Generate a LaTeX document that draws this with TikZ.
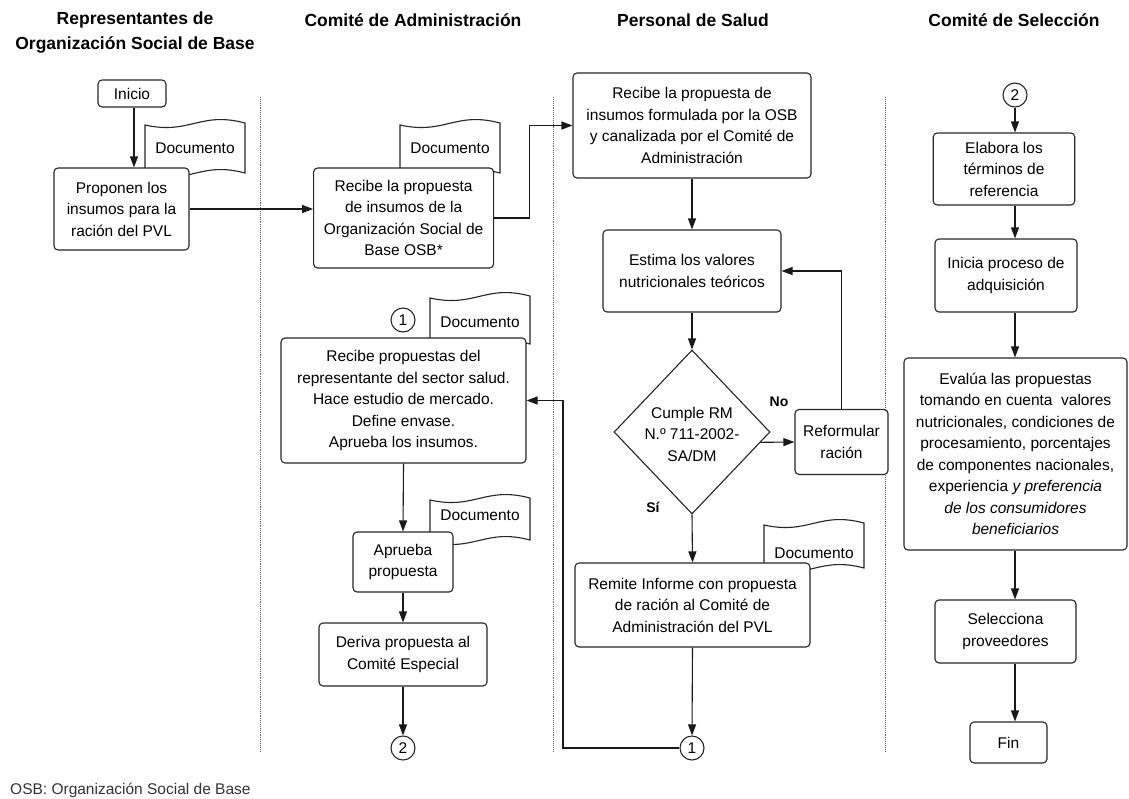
\documentclass[tikz,border=0pt]{standalone}
\usepackage{fontspec}
\setmainfont{Liberation Sans}
\usetikzlibrary{arrows.meta,shapes.geometric,calc}
\newcommand{\myBody}{\fontsize{15.5}{21.5}\selectfont}
\newcommand{\myTitle}{\fontsize{17.5}{25}\selectfont\bfseries}
\tikzset{
  box/.style={draw=black!85, line width=1.1pt, rounded corners=4pt, fill=white,
    inner sep=0pt, align=center, font=\myBody, text=black},
  conn/.style={circle, draw=black!85, line width=1.1pt, fill=white, minimum size=24pt,
    inner sep=0pt, font=\myBody},
  arr/.style={line width=1.1pt, draw=black!90, -{Triangle[length=11pt,width=8pt]}},
  plain/.style={line width=1.1pt, draw=black!90},
  sep/.style={line width=0.9pt, draw=black!60, densely dotted},
  docsty/.style={draw=black!85, line width=1.1pt, fill=white},
  doctext/.style={font=\myBody, inner sep=0pt},
  lanetitle/.style={font=\myTitle, align=center, inner sep=0pt},
  lbl/.style={font=\fontsize{14}{16}\selectfont\bfseries, inner sep=0pt},
}
\newcommand{\docflag}[5]{%
  \begin{scope}[shift={(#2,#3)}]
    \draw[docsty] (0,0) .. controls (45,10) and (55,-14) .. (100,-2)
      -- (100,#4-2) .. controls (55,#4-14) and (45,#4+10) .. (0,#4) -- cycle;
    \node[doctext] (#1) at (50,#5) {Documento};
  \end{scope}}
\begin{document}
\begin{tikzpicture}[x=1pt,y=-1pt]
\useasboundingbox (0,0) rectangle (1129,798);

% lane titles
\node[lanetitle] (t1) at (135,32.5) {Representantes de\\Organización Social de Base};
\node[lanetitle] (t2) at (413,20) {Comité de Administración};
\node[lanetitle] (t3) at (693,20) {Personal de Salud};
\node[lanetitle] (t4) at (1014,20) {Comité de Selección};

% separators
\draw[sep] (260,97) -- (260,752);
\draw[sep] (553,97) -- (553,752);
\draw[sep] (885,97) -- (885,752);

% documents (drawn behind boxes)
\docflag{d1}{145}{125}{50}{23}
\docflag{d2}{400}{125}{50}{23}
\docflag{d3}{430}{298}{48}{24}
\docflag{d4}{430}{500}{42}{15}
\docflag{d5}{764}{525}{45}{28}

% lane 1
\node[box, minimum width=68pt, minimum height=27pt] (inicio) at (132,93.5) {Inicio};
\node[box, minimum width=135pt, minimum height=82pt] (proponen) at (121.5,209)
  {Proponen los\\insumos para la\\ración del PVL};

% lane 2
\node[box, minimum width=180pt, minimum height=100pt] (recibeCA) at (403.6,218)
  {Recibe la propuesta\\de insumos de la\\Organización Social de\\Base OSB*};
\node[conn] (c1t) at (403,320) {1};
\node[box, minimum width=245pt, minimum height=125pt] (recprop) at (403.5,400.5)
  {Recibe propuestas del\\representante del sector salud.\\Hace estudio de mercado.\\Define envase.\\Aprueba los insumos.};
\node[box, minimum width=100pt, minimum height=60pt] (aprueba) at (403,562)
  {Aprueba\\propuesta};
\node[box, minimum width=168pt, minimum height=63pt] (deriva) at (403,654.5)
  {Deriva propuesta al\\Comité Especial};
\node[conn] (c2b) at (403,748) {2};

% lane 3
\node[box, minimum width=238pt, minimum height=105pt] (recibePS) at (692,125.5)
  {Recibe la propuesta de\\insumos formulada por la OSB\\y canalizada por el Comité de\\Administración};
\node[box, minimum width=178pt, minimum height=82pt] (estima) at (692,271)
  {Estima los valores\\nutricionales teóricos};
\node[diamond, draw=black!85, line width=1.1pt, fill=white, inner sep=0pt,
  minimum width=156pt, minimum height=164pt] (dia) at (692,432) {};
\node[font=\myBody, align=center, inner sep=0pt] (diatxt) at (692,434)
  {Cumple RM\\N.º 711-2002-\\SA/DM};
\node[box, minimum width=93pt, minimum height=65pt] (refo) at (841.5,442)
  {Reformular\\ración};
\node[box, minimum width=235pt, minimum height=84pt] (remite) at (692.5,605)
  {Remite Informe con propuesta\\de ración al Comité de\\Administración del PVL};
\node[conn] (c1b) at (692,748) {1};
\node[lbl] (no) at (779,402) {No};
\node[lbl] (si) at (653,507) {Sí};

% lane 4
\node[conn] (c2t) at (1015,95) {2};
\node[box, minimum width=141.5pt, minimum height=72pt] (elabora) at (1004,169)
  {Elabora los\\términos de\\referencia};
\node[box, minimum width=142pt, minimum height=73pt] (inicia) at (1006,275.5)
  {Inicia proceso de\\adquisición};
\node[box, minimum width=223pt, minimum height=192pt] (evalua) at (1015.5,454)
  {Evalúa las propuestas\\tomando en cuenta\ \ valores\\nutricionales, condiciones de\\procesamiento, porcentajes\\de componentes nacionales,\\experiencia \textit{y preferencia}\\\textit{de los consumidores}\\\textit{beneficiarios}};
\node[box, minimum width=141pt, minimum height=63pt] (selec) at (1005.5,631.5)
  {Selecciona\\proveedores};
\node[box, minimum width=77pt, minimum height=41pt] (fin) at (1008.5,742.5) {Fin};

% note
\node[anchor=west, font=\myBody, text=black!80, inner sep=0pt] (nota) at (10,790)
  {OSB: Organización Social de Base};

% connectors
\draw[arr] (inicio.south -| 134,0) -- (proponen.north -| 134,0);
\draw[arr] (proponen.east) -- (proponen.east -| recibeCA.west);
\draw[arr] (recibeCA.east) -- ++(35,0) |- (recibePS.west);
\draw[arr] (recibePS.south) -- (estima.north);
\draw[arr] (estima.south) -- (dia.north);
\draw[arr] ($(dia.east)!0.125!(dia.south)$) -- (refo.west);
\draw[arr] (refo.north) |- (estima.east);
\draw[arr] (dia.south) -- (remite.north);
\draw[arr] (remite.south) -- (c1b.north);
\coordinate (j1) at (563,748);
\draw[arr] (c1b.west) -- (j1) |- (recprop.east);
\draw[arr] (recprop.south) -- (aprueba.north);
\draw[arr] (aprueba.south) -- (deriva.north);
\draw[arr] (deriva.south) -- (c2b.north);
\draw[arr] (c2t.south) -- (c2t.south |- elabora.north);
\draw[arr] (elabora.south -| c2t) -- (inicia.north -| c2t);
\draw[arr] (inicia.south -| c2t) -- (evalua.north -| c2t);
\draw[arr] (evalua.south -| c2t) -- (selec.north -| c2t);
\draw[arr] (selec.south -| c2t) -- (fin.north -| c2t);
\end{tikzpicture}
\end{document}
